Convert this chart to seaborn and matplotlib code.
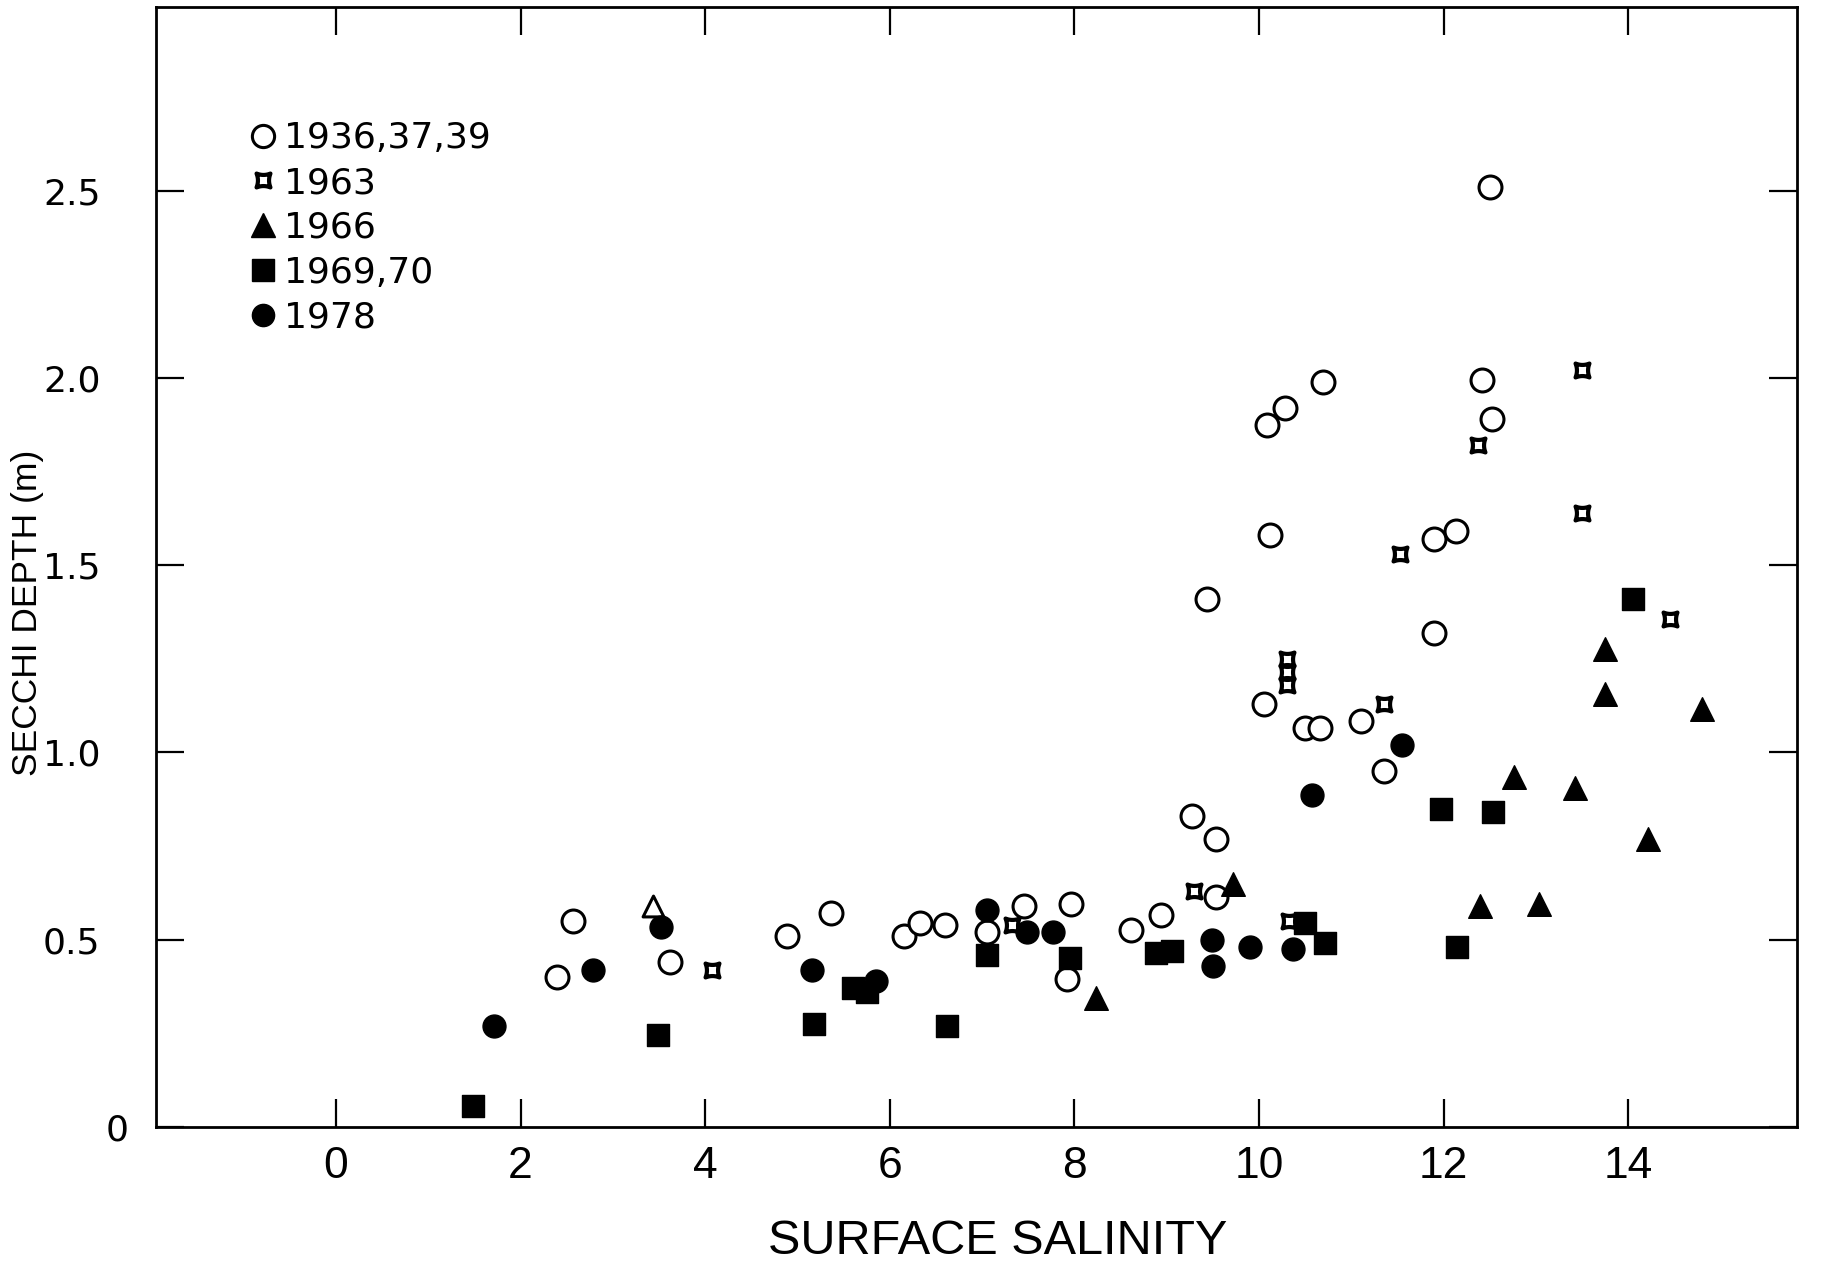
import numpy as np
import pandas as pd
import matplotlib
matplotlib.use("Agg")
import matplotlib.pyplot as plt
import seaborn as sns
from matplotlib.path import Path
from matplotlib.lines import Line2D
from matplotlib.transforms import ScaledTranslation

# ---------------- data ----------------
x_1936 = [2.40, 2.57, 3.62, 4.89, 5.36, 6.15, 6.33, 6.60, 7.05, 7.45, 7.96, 7.92, 8.61, 8.94,
          9.27, 9.54, 9.54, 9.44, 10.05, 10.09, 10.28, 10.69, 10.12, 10.50, 10.66, 11.11,
          11.35, 11.90, 11.90, 12.13, 12.42, 12.53, 12.50]
y_1936 = [0.40, 0.55, 0.44, 0.51, 0.57, 0.51, 0.545, 0.54, 0.52, 0.59, 0.595, 0.395, 0.525, 0.565,
          0.83, 0.77, 0.615, 1.41, 1.13, 1.875, 1.92, 1.99, 1.58, 1.065, 1.065, 1.085,
          0.95, 1.32, 1.57, 1.59, 1.995, 1.89, 2.51]

x_1963 = [4.07, 7.32, 9.00, 9.30, 10.33, 10.30, 10.30, 10.30, 11.36, 11.53, 12.37, 13.50, 13.50, 14.45]
y_1963 = [0.42, 0.54, 0.47, 0.63, 0.55, 1.25, 1.215, 1.18, 1.13, 1.53, 1.82, 2.02, 1.64, 1.355]

x_1966 = [8.23, 9.72, 12.39, 13.04, 12.76, 13.43, 14.22, 13.75, 13.75, 14.80]
y_1966 = [0.345, 0.65, 0.59, 0.595, 0.935, 0.905, 0.77, 1.275, 1.155, 1.115]

x_open_tri = [3.43]
y_open_tri = [0.59]

x_1969 = [1.48, 3.49, 5.18, 5.60, 5.75, 6.62, 7.05, 7.95, 8.88, 9.06, 10.50, 10.72, 11.97, 12.54, 12.15, 14.05]
y_1969 = [0.057, 0.245, 0.275, 0.37, 0.36, 0.27, 0.46, 0.45, 0.465, 0.47, 0.545, 0.49, 0.85, 0.84, 0.48, 1.41]

x_1978 = [1.71, 2.79, 3.52, 5.16, 5.85, 7.05, 7.49, 7.77, 9.49, 9.50, 9.90, 10.37, 10.58, 11.55]
y_1978 = [0.27, 0.42, 0.535, 0.42, 0.39, 0.58, 0.52, 0.52, 0.50, 0.43, 0.48, 0.475, 0.885, 1.02]

labels = ["1936,37,39", "1963", "1966", "1969,70", "1978"]
x_ticks = [0, 2, 4, 6, 8, 10, 12, 14]
y_ticks = [0, 0.5, 1.0, 1.5, 2.0, 2.5]
y_ticklabels = ["0", "0.5", "1.0", "1.5", "2.0", "2.5"]

# ---------------- style ----------------
sns.set_theme(style="ticks")
plt.rcParams["font.family"] = ["DejaVu Sans"]
plt.rcParams["axes.linewidth"] = 2.0

LIB = ["Liberation Sans", "DejaVu Sans"]
WIDE = ["DejaVu Sans"]

# concave "1963" marker (square with pinched sides)
d = 0.2
t = np.linspace(-1, 1, 15)
verts = []
verts += [(xx, 1 - d * (1 - xx ** 2)) for xx in t]
verts += [(1 - d * (1 - yy ** 2), yy) for yy in t[::-1][1:]]
verts += [(xx, -1 + d * (1 - xx ** 2)) for xx in t[::-1][1:]]
verts += [(-1 + d * (1 - yy ** 2), yy) for yy in t[1:]]
verts.append(verts[0])
codes = [Path.MOVETO] + [Path.LINETO] * (len(verts) - 2) + [Path.CLOSEPOLY]
m1963 = Path(verts, codes)

fig = plt.figure(figsize=(18.42, 12.75), dpi=100)
ax = fig.add_axes([156 / 1842, 1 - 1127 / 1275, (1797 - 156) / 1842, (1127 - 7) / 1275])

def df(x, y):
    return pd.DataFrame({"salinity": x, "secchi": y})

sns.scatterplot(data=df(x_1936, y_1936), x="salinity", y="secchi", ax=ax, marker="o",
                s=16.5 ** 2, color="white", edgecolor="black", linewidth=2.2, zorder=3)
sns.scatterplot(data=df(x_1963, y_1963), x="salinity", y="secchi", ax=ax, marker=m1963,
                s=10 ** 2, color="white", edgecolor="black", linewidth=3.0, zorder=4)
sns.scatterplot(data=df(x_open_tri, y_open_tri), x="salinity", y="secchi", ax=ax, marker="^",
                s=15 ** 2, color="white", edgecolor="black", linewidth=2.2, zorder=4)
sns.scatterplot(data=df(x_1966, y_1966), x="salinity", y="secchi", ax=ax, marker="^",
                s=17 ** 2, color="black", edgecolor="black", linewidth=1.0, zorder=5)
sns.scatterplot(data=df(x_1969, y_1969), x="salinity", y="secchi", ax=ax, marker="s",
                s=16 ** 2, color="black", edgecolor="black", linewidth=1.0, zorder=5)
sns.scatterplot(data=df(x_1978, y_1978), x="salinity", y="secchi", ax=ax, marker="o",
                s=16.5 ** 2, color="black", edgecolor="black", linewidth=1.0, zorder=6)

ax.set_xlim(-1.95, 15.83)
ax.set_ylim(0, 2.99)

ax.set_xticks(x_ticks)
ax.set_xticklabels([str(v) for v in x_ticks], family=LIB, fontsize=32)
ax.set_yticks(y_ticks)
ax.set_yticklabels(y_ticklabels, family=WIDE, fontsize=26)
ax.tick_params(axis="x", direction="in", length=20, width=1.6, top=True, bottom=True,
               pad=14, colors="black")
ax.tick_params(axis="y", direction="in", length=20, width=1.6, left=True, right=True,
               pad=40, colors="black")
for lbl in ax.get_yticklabels():
    if lbl.get_text() == "0":
        lbl.set_transform(lbl.get_transform() + ScaledTranslation(0.28, 0, fig.dpi_scale_trans))

for sp in ax.spines.values():
    sp.set_color("black")
    sp.set_linewidth(2.0)
    sp.set_visible(True)

ax.set_xlabel("SURFACE SALINITY", family=LIB, fontsize=35, color="black")
ax.xaxis.set_label_coords(0.513, -0.082)
ax.set_ylabel("SECCHI DEPTH (m)", family=LIB, fontsize=25.5, color="black")
ax.yaxis.set_label_coords(-0.0685, 0.459)

handles = [
    Line2D([], [], linestyle="None", marker="o", markersize=16, markerfacecolor="white",
           markeredgecolor="black", markeredgewidth=2.2),
    Line2D([], [], linestyle="None", marker=m1963, markersize=10, markerfacecolor="white",
           markeredgecolor="black", markeredgewidth=3.0),
    Line2D([], [], linestyle="None", marker="^", markersize=17, markerfacecolor="black",
           markeredgecolor="black"),
    Line2D([], [], linestyle="None", marker="s", markersize=16, markerfacecolor="black",
           markeredgecolor="black"),
    Line2D([], [], linestyle="None", marker="o", markersize=16, markerfacecolor="black",
           markeredgecolor="black"),
]
leg = ax.legend(handles, labels, loc="upper left", bbox_to_anchor=(0.054, 0.898),
                frameon=False, fontsize=26, handlelength=1.0, handletextpad=0.1,
                labelspacing=0.3, borderpad=0, borderaxespad=0)
for txt in leg.get_texts():
    txt.set_color("black")

fig.savefig("out.png", dpi=100, facecolor="white")
